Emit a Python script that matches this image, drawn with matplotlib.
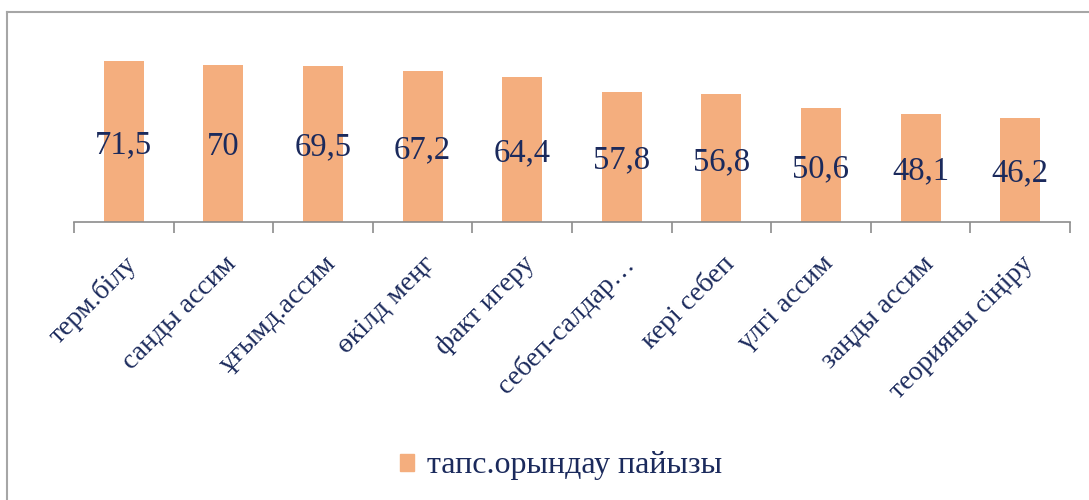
import matplotlib
matplotlib.use("Agg")
import matplotlib.pyplot as plt
from matplotlib.lines import Line2D
from matplotlib.patches import Patch

categories = ["терм.білу", "санды ассим", "ұғымд.ассим", "өкілд меңг", "факт игеру",
              "себеп-салдар…", "кері себеп", "үлгі ассим", "заңды ассим", "теорияны сіңіру"]
values = [71.5, 70, 69.5, 67.2, 64.4, 57.8, 56.8, 50.6, 48.1, 46.2]
value_labels = ["71,5", "70", "69,5", "67,2", "64,4", "57,8", "56,8", "50,6", "48,1", "46,2"]
series_name = "тапс.орындау пайызы"

bar_color = "#F4AE7E"
text_color = "#1B2A5C"
axis_color = "#8C8C8C"
font = ["Liberation Serif", "DejaVu Serif"]

fig = plt.figure(figsize=(10.89, 5.0), dpi=100)
ax = fig.add_axes([74/1089, 1-222/500, (1070-74)/1089, 180/500])
x = list(range(len(categories)))
ax.bar(x, values, width=0.4, color=bar_color)
for xi, v, lab in zip(x, values, value_labels):
    ax.text(xi, v/2, lab, ha="center", va="center_baseline", fontsize=23.5, color=text_color, family=font)
ax.set_xlim(-0.5, len(categories)-0.5)
ax.set_ylim(0, 80)
for s in ["top", "right", "left"]:
    ax.spines[s].set_visible(False)
ax.spines["bottom"].set_color(axis_color)
ax.spines["bottom"].set_linewidth(1.2)
ax.set_yticks([])
ax.set_xticks(x)
ax.set_xticklabels(categories, rotation=45, ha="right", va="top", rotation_mode="anchor",
                   fontsize=20, color=text_color, family=font)
ax.tick_params(axis="x", which="major", length=0, pad=21)
ax.set_xticks([i - 0.5 for i in range(len(categories)+1)], minor=True)
ax.tick_params(axis="x", which="minor", length=8, color=axis_color, width=1.2)

fig.legend(handles=[Patch(color=bar_color)], labels=[series_name], loc="center",
           bbox_to_anchor=(561/1089, 1-466/500), frameon=False,
           prop={"family": font, "size": 23}, labelcolor=text_color,
           handlelength=0.45, handleheight=0.45, handletextpad=0.4)

fig.add_artist(Line2D([7/1089, 1.0], [1-12/500, 1-12/500], transform=fig.transFigure,
                      color="#A6A6A6", lw=1.5))
fig.add_artist(Line2D([7/1089, 7/1089], [0, 1-12/500], transform=fig.transFigure,
                      color="#A6A6A6", lw=1.5))
fig.savefig("out.png", dpi=100)
